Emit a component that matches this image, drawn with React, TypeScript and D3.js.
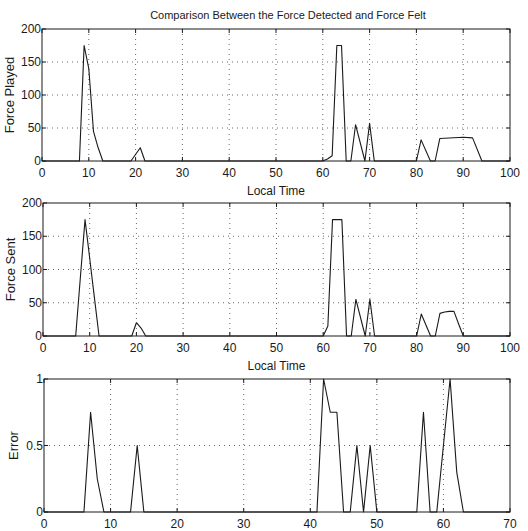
import React from "react";
import * as d3 from "d3";

// ---- Data (breakpoints of each series) ----
const playedTime = [0, 8, 9, 10, 11, 12, 13, 19, 21, 22, 60, 61, 62, 63, 64, 65, 66, 67, 69, 70, 71, 80, 81, 83, 84, 85, 90, 92, 94, 100];
const playedForce = [0, 0, 175, 140, 45, 20, 0, 0, 20, 0, 0, 3, 8, 175, 175, 0, 0, 55, 0, 57, 0, 0, 32, 0, 0, 34, 36, 35, 0, 0];

const sentTime = [0, 7, 8, 9, 10, 11, 12, 19, 20, 21, 22, 60, 61, 62, 63, 64, 65, 66, 67, 69, 70, 71, 80, 81, 83, 84, 85, 86, 87, 88, 89, 90, 100];
const sentForce = [0, 0, 88, 175, 117, 58, 0, 0, 20, 12, 0, 0, 15, 175, 175, 175, 0, 0, 55, 0, 55, 0, 0, 33, 0, 0, 34, 36, 37, 37, 18, 0, 0];

const errorTime = [0, 6, 7, 8, 9, 13, 14, 15, 41, 42, 43, 44, 45, 46, 47, 48, 49, 50, 56, 57, 58, 59, 60, 61, 62, 63, 70];
const errorValue = [0, 0, 0.75, 0.25, 0, 0, 0.5, 0, 0, 1, 0.75, 0.75, 0, 0, 0.5, 0, 0.5, 0, 0, 0.75, 0, 0, 0.5, 1, 0.3, 0, 0];

const forceTicksX = [0, 10, 20, 30, 40, 50, 60, 70, 80, 90, 100];
const forceTicksY = [0, 50, 100, 150, 200];
const errorTicksX = [0, 10, 20, 30, 40, 50, 60, 70];
const errorTicksY = [0, 0.5, 1];

const titleText = "Comparison Between the Force Detected and Force Felt";

const FONT = "'Liberation Sans', Arial, sans-serif";
const INK = "#1a1a1a";

type PanelProps = {
  xs: number[];
  ys: number[];
  xDomain: [number, number];
  yDomain: [number, number];
  xTicks: number[];
  yTicks: number[];
  left: number;
  right: number;
  top: number;
  bottom: number;
  yLabel: string;
  xLabel?: string;
  yLabelX: number;
  fmtY?: (v: number) => string;
};

function Panel(p: PanelProps) {
  const x = d3.scaleLinear().domain(p.xDomain).range([p.left, p.right]);
  const y = d3.scaleLinear().domain(p.yDomain).range([p.bottom, p.top]);
  const pts: [number, number][] = p.xs.map((t, i) => [t, p.ys[i]]);
  const line = d3
    .line<[number, number]>()
    .x((d) => x(d[0]))
    .y((d) => y(d[1]));
  const tl = 4;
  const fmt = p.fmtY || ((v: number) => String(v));
  return (
    <g>
      {/* grid */}
      {p.xTicks.slice(1, -1).map((t) => (
        <line key={"gx" + t} x1={x(t)} x2={x(t)} y1={p.top} y2={p.bottom} stroke="#444" strokeWidth={0.8} strokeDasharray="1,4" />
      ))}
      {p.yTicks.slice(1, -1).map((t) => (
        <line key={"gy" + t} x1={p.left} x2={p.right} y1={y(t)} y2={y(t)} stroke="#444" strokeWidth={0.8} strokeDasharray="1,4" />
      ))}
      {/* ticks */}
      {p.xTicks.map((t) => (
        <g key={"tx" + t}>
          <line x1={x(t)} x2={x(t)} y1={p.bottom} y2={p.bottom - tl} stroke={INK} />
          <line x1={x(t)} x2={x(t)} y1={p.top} y2={p.top + tl} stroke={INK} />
          <text x={x(t)} y={p.bottom + 16} textAnchor="middle" fontSize={12} fontFamily={FONT} fill={INK}>
            {t}
          </text>
        </g>
      ))}
      {p.yTicks.map((t) => (
        <g key={"ty" + t}>
          <line x1={p.left} x2={p.left + tl} y1={y(t)} y2={y(t)} stroke={INK} />
          <line x1={p.right} x2={p.right - tl} y1={y(t)} y2={y(t)} stroke={INK} />
          <text x={p.left - 1} y={y(t) + 4} textAnchor="end" fontSize={12} fontFamily={FONT} fill={INK}>
            {fmt(t)}
          </text>
        </g>
      ))}
      {/* data line */}
      <path d={line(pts) || ""} fill="none" stroke={INK} strokeWidth={1.1} strokeLinejoin="round" />
      {/* frame */}
      <rect x={p.left} y={p.top} width={p.right - p.left} height={p.bottom - p.top} fill="none" stroke={INK} strokeWidth={1} />
      {/* labels */}
      <text
        transform={`translate(${p.yLabelX},${(p.top + p.bottom) / 2}) rotate(-90)`}
        textAnchor="middle"
        fontSize={13}
        fontFamily={FONT}
        fill={INK}
      >
        {p.yLabel}
      </text>
      {p.xLabel ? (
        <text x={(p.left + p.right) / 2} y={p.bottom + 34} textAnchor="middle" fontSize={12} fontFamily={FONT} fill={INK}>
          {p.xLabel}
        </text>
      ) : null}
    </g>
  );
}

export default function App() {
  return (
    <svg
      width={528}
      height={531}
      viewBox="0 0 528 531"
      style={{ position: "absolute", left: 0, top: 0, background: "#fff" }}
    >
      <rect x={0} y={0} width={528} height={531} fill="#fff" />
      <text x={288} y={19} textAnchor="middle" fontSize={11} fontFamily={FONT} fill={INK}>
        {titleText}
      </text>
      <Panel
        xs={playedTime}
        ys={playedForce}
        xDomain={[0, 100]}
        yDomain={[0, 200]}
        xTicks={forceTicksX}
        yTicks={forceTicksY}
        left={42}
        right={510}
        top={29}
        bottom={161}
        yLabel="Force Played"
        xLabel="Local Time"
        yLabelX={14}
      />
      <Panel
        xs={sentTime}
        ys={sentForce}
        xDomain={[0, 100]}
        yDomain={[0, 200]}
        xTicks={forceTicksX}
        yTicks={forceTicksY}
        left={43}
        right={510}
        top={203}
        bottom={336}
        yLabel="Force Sent"
        xLabel="Local Time"
        yLabelX={15}
      />
      <Panel
        xs={errorTime}
        ys={errorValue}
        xDomain={[0, 70]}
        yDomain={[0, 1]}
        xTicks={errorTicksX}
        yTicks={errorTicksY}
        left={44}
        right={510}
        top={379}
        bottom={512}
        yLabel="Error"
        yLabelX={18}
        fmtY={(v) => (v === 0.5 ? "0.5" : String(v))}
      />
    </svg>
  );
}
